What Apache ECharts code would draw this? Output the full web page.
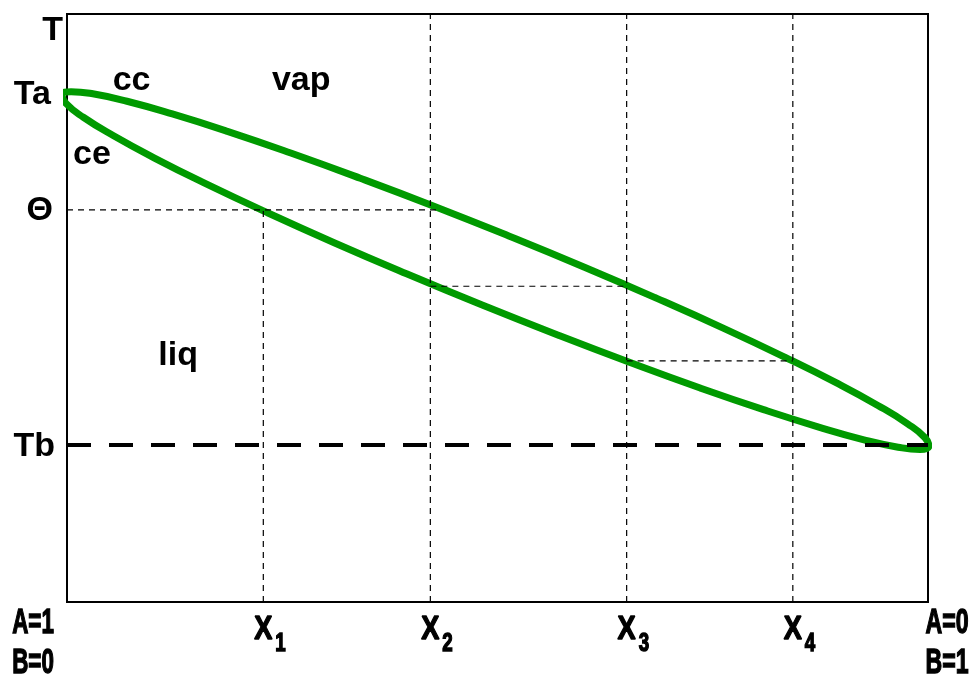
<!DOCTYPE html>
<html><head><meta charset="utf-8">
<script src="https://cdn.jsdelivr.net/npm/echarts@6/dist/echarts.min.js"></script>
<style>html,body{margin:0;padding:0;background:#fff}#c{width:971px;height:679px}</style>
</head><body><div id="c"></div>
<script>
// lower curve (liquid / "ce"), from the right tip (B=1) back to the left tip (A=1)
const bubbleCurve = [[1.001,26.51],[0.9907,25.95],[0.9653,26.33],[0.9256,27.59],[0.8731,29.75],[0.8090,32.71],[0.7354,36.39],[0.6548,40.68],[0.5692,45.45],[0.4815,50.54],[0.3944,55.82],[0.3103,61.11],[0.2320,66.26],[0.1616,71.11],[0.1016,75.50],[0.0536,79.33],[0.0190,82.44],[-0.0009,84.77],[-0.0058,86.24]];
// upper curve (vapour / "cc"), from the left tip to the right tip
const dewCurve = [[0.0047,86.79],[0.0300,86.43],[0.0697,85.16],[0.1223,83.00],[0.1863,80.05],[0.2599,76.36],[0.3406,72.07],[0.4262,67.31],[0.5138,62.21],[0.6010,56.94],[0.6851,51.64],[0.7634,46.50],[0.8337,41.64],[0.8938,37.25],[0.9418,33.43],[0.9764,30.31],[0.9963,27.98]];
const xTickNames = ['1','2','3','4'];
const xTickValues = [0.228, 0.422, 0.650, 0.843];
const yTickNames = ['T','Ta','\u0398','Tb'];
const yTickValues = [97.1, 86.3, 66.5, 26.5];
const theta = 66.7;
const tb = 26.7;
const tieTemps = [53.7, 41.0];
const thetaEnd = 0.432;
const endLabelsLeft = ['A=1','B=0'];
const endLabelsRight = ['A=0','B=1'];
const regionNames = ['cc','vap','ce','liq'];
const regionPos = [[0.075,88.6],[0.272,88.6],[0.029,76.0],[0.129,41.9]];

const mid = 9; // start the closed loop in the middle of the lower curve
const ellipse = bubbleCurve.slice(mid).concat(dewCurve, bubbleCurve.slice(0, mid + 1));
const thin = {color:'#000', width:1.2, type:[6,5]};
function seg(pts){return {type:'line', data:pts, symbol:'none', lineStyle:thin, silent:true, z:5, clip:false, animation:false};}
const series = [
  {type:'line', data:ellipse, symbol:'none', smooth:0.5, clip:false, lineStyle:{color:'#009a00', width:7, cap:'round', join:'round'}, z:3, animation:false},
  seg([[0,theta],[thetaEnd,theta]]),
  seg([[xTickValues[0],0],[xTickValues[0],theta]]),
  seg([[xTickValues[1],0],[xTickValues[1],100]]),
  seg([[xTickValues[2],0],[xTickValues[2],100]]),
  seg([[xTickValues[3],0],[xTickValues[3],100]]),
  seg([[xTickValues[1],tieTemps[0]],[xTickValues[2],tieTemps[0]]]),
  seg([[xTickValues[2],tieTemps[1]],[xTickValues[3],tieTemps[1]]]),
  {type:'line', data:[[0,tb],[1,tb]], symbol:'none', silent:true, z:6, animation:false, lineStyle:{color:'#000', width:4, type:[24,18]}}
];
const chart = echarts.init(document.getElementById('c'));
chart.setOption({
  animation:false,
  grid:{left:67, right:43, top:14, bottom:77, show:true, borderColor:'#000', borderWidth:2, backgroundColor:'transparent'},
  xAxis:{type:'value', min:0, max:1, axisLine:{show:false}, axisTick:{show:false}, axisLabel:{show:false}, splitLine:{show:false}},
  yAxis:{type:'value', min:0, max:100, axisLine:{show:false}, axisTick:{show:false}, axisLabel:{show:false}, splitLine:{show:false}},
  series: series
});
const F = '"Liberation Sans", Arial, sans-serif';
const g = [];
function px(x,y){return chart.convertToPixel({gridIndex:0},[x,y]);}
const rightEdges = [63,51,53,55];
yTickNames.forEach((n,i)=>{
  const p = px(0, yTickValues[i]);
  g.push({type:'text', x:rightEdges[i], y:p[1], style:{text:n, font:'bold 34px '+F, fill:'#000', textAlign:'right', textVerticalAlign:'middle'}});
});
regionNames.forEach((n,i)=>{
  const p = px(regionPos[i][0], regionPos[i][1]);
  g.push({type:'text', x:p[0], y:p[1], style:{text:n, font:'bold 34px '+F, fill:'#000', textAlign:'center', textVerticalAlign:'middle'}});
});
const bottomY = px(0,0)[1];
const bold = {fill:'#000', stroke:'#000', lineWidth:1.4};
xTickNames.forEach((n,i)=>{
  const p = px(xTickValues[i],0);
  g.push({type:'text', x:p[0], y:bottomY+28, scaleX:0.8, style:Object.assign({text:'X', font:'bold 34px '+F, textAlign:'center', textVerticalAlign:'middle'}, bold)});
  g.push({type:'text', x:p[0]+12, y:bottomY+42, scaleX:0.75, style:Object.assign({text:n, font:'bold 25px '+F, textAlign:'left', textVerticalAlign:'middle'}, bold)});
});
const pl = px(0,0), pr = px(1,0);
endLabelsLeft.forEach((n,i)=>{
  g.push({type:'text', x:pl[0]-34, y:bottomY+21+i*40, scaleX:0.64, style:Object.assign({text:n, font:'bold 35px '+F, textAlign:'center', textVerticalAlign:'middle'}, bold)});
});
endLabelsRight.forEach((n,i)=>{
  g.push({type:'text', x:pr[0]+19, y:bottomY+21+i*40, scaleX:0.66, style:Object.assign({text:n, font:'bold 35px '+F, textAlign:'center', textVerticalAlign:'middle'}, bold)});
});
chart.setOption({graphic:g});
</script></body></html>
